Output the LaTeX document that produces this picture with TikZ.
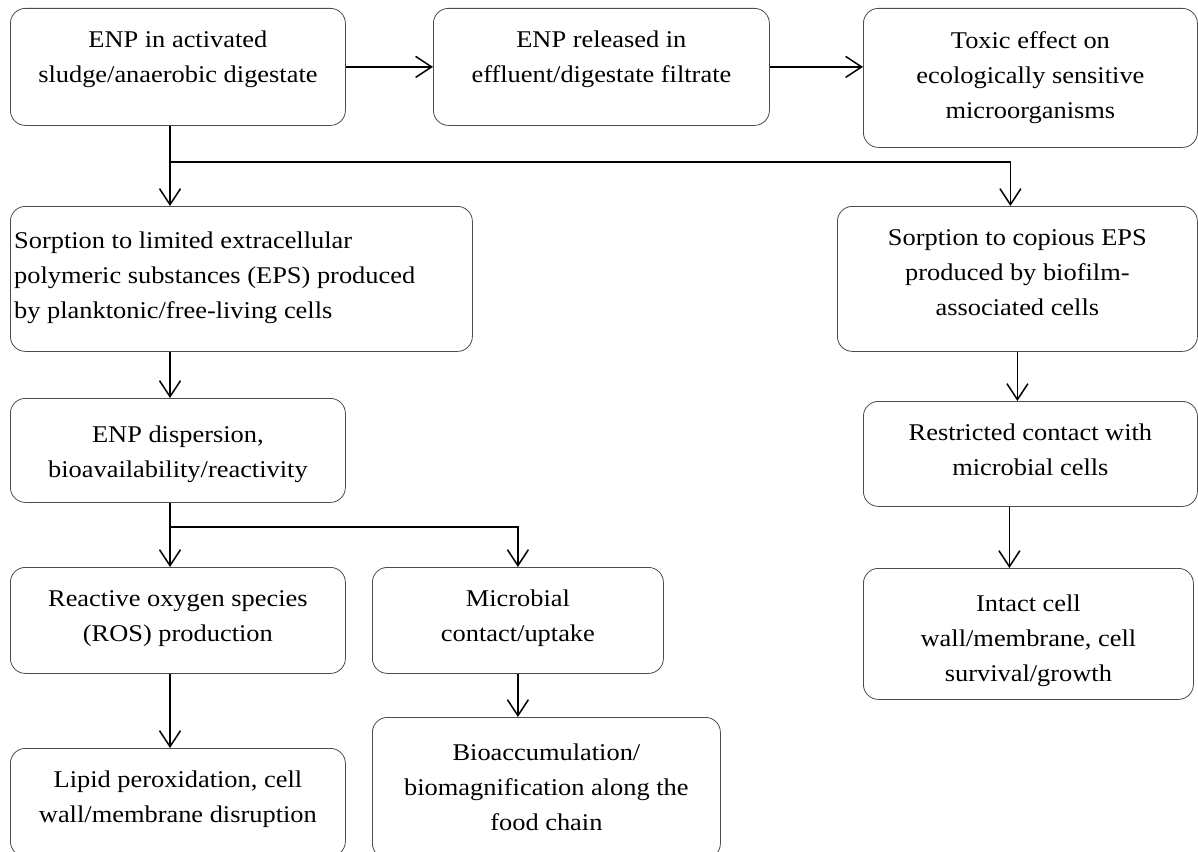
\documentclass[tikz,border=0pt]{standalone}
\usepackage{fontspec}
\setmainfont{Liberation Serif}[FakeStretch=1.1]
\usepackage{tikz}
\usetikzlibrary{arrows.meta,calc,positioning}
\newcommand{\stagefont}{\fontsize{24}{35}\selectfont}
\tikzset{
  stagebox/.style={draw=black!70, line width=0.8pt, rounded corners=15pt, anchor=north west, inner sep=0pt},
  stagetext/.style={anchor=north, align=center, inner sep=0pt, yshift=-23pt, font=\stagefont},
  link/.style={line width=1.5pt, black},
  flow/.style={-{Straight Barb[length=16pt, width=21pt]}, line width=1.5pt, black}
}

\begin{document}
\begin{tikzpicture}[x=1pt,y=-1pt]
  \path[fill=white, use as bounding box] (0,0) rectangle (1198,851);

  % top row
  \node[stagebox, minimum width=335pt, minimum height=117pt] (enp) at (10,8) {};
  \node[stagetext] (enp-t) at (enp.north) {ENP in activated\\sludge/anaerobic digestate};
  \node[stagebox, minimum width=336pt, minimum height=117pt] (rel) at (433,8) {};
  \node[stagetext] (rel-t) at (rel.north) {ENP released in\\effluent/digestate filtrate};
  \node[stagebox, minimum width=334pt, minimum height=139pt] (tox) at (863,8) {};
  \node[stagetext] (tox-t) at (tox.north) {Toxic effect on\\ecologically sensitive\\microorganisms};

  % left branch
  \node[stagebox, minimum width=462pt, minimum height=145pt] (sorp1) at (10,206) {};
  \node[stagetext, anchor=north west, align=left, yshift=-3pt] (sorp1-t) at ([xshift=4pt]sorp1.north west) {Sorption to limited extracellular\\polymeric substances (EPS) produced\\by planktonic/free-living cells};
  \node[stagebox, minimum width=335pt, minimum height=104pt] (disp) at (10,398) {};
  \node[stagetext, yshift=-5pt] (disp-t) at (disp.north) {ENP dispersion,\\bioavailability/reactivity};
  \node[stagebox, minimum width=335pt, minimum height=106pt] (ros) at (10,567) {};
  \node[stagetext] (ros-t) at (ros.north) {Reactive oxygen species\\(ROS) production};
  \node[stagebox, minimum width=291pt, minimum height=106pt] (micro) at (372,567) {};
  \node[stagetext] (micro-t) at (micro.north) {Microbial\\contact/uptake};
  \node[stagebox, minimum width=335pt, minimum height=108pt] (lipid) at (10,748) {};
  \node[stagetext] (lipid-t) at (lipid.north) {Lipid peroxidation, cell\\wall/membrane disruption};
  \node[stagebox, minimum width=348pt, minimum height=141pt] (bioacc) at (372,717) {};
  \node[stagetext, yshift=-4pt] (bioacc-t) at (bioacc.north) {Bioaccumulation/\\biomagnification along the\\food chain};

  % right branch
  \node[stagebox, minimum width=360pt, minimum height=145pt] (sorp2) at (837,206) {};
  \node[stagetext] (sorp2-t) at (sorp2.north) {Sorption to copious EPS\\produced by biofilm-\\associated cells};
  \node[stagebox, minimum width=334pt, minimum height=105pt] (restr) at (863,401) {};
  \node[stagetext] (restr-t) at (restr.north) {Restricted contact with\\microbial cells};
  \node[stagebox, minimum width=330pt, minimum height=131pt] (intact) at (863,568) {};
  \node[stagetext, yshift=-4pt] (intact-t) at (intact.north) {Intact cell\\wall/membrane, cell\\survival/growth};

  % connectors
  \coordinate (split1) at (170,162);
  \coordinate (split2) at (170,527);
  \draw[flow] (enp.east) -- (rel.west);
  \draw[flow] (rel.east) -- (rel.east -| tox.west);
  \draw[link] (enp.south -| split1) -- (split1);
  \draw[flow] (split1) -- (split1 |- sorp1.north);
  \draw[flow] (split1) -| ([xshift=-7pt]sorp2.north);
  \draw[flow] (sorp1.south -| split1) -- (disp.north -| split1);
  \draw[link] (disp.south -| split2) -- (split2);
  \draw[flow] (split2) -- (split2 |- ros.north);
  \draw[flow] (split2) -| (micro.north);
  \draw[flow] (ros.south -| split2) -- (lipid.north -| split2);
  \draw[flow] (micro.south) -- (micro.south |- bioacc.north);
  \draw[flow] (sorp2.south) -- (sorp2.south |- restr.north);
  \draw[flow] ([xshift=-21pt]restr.south) -- ([xshift=-21pt]restr.south |- intact.north);
\end{tikzpicture}
\end{document}
